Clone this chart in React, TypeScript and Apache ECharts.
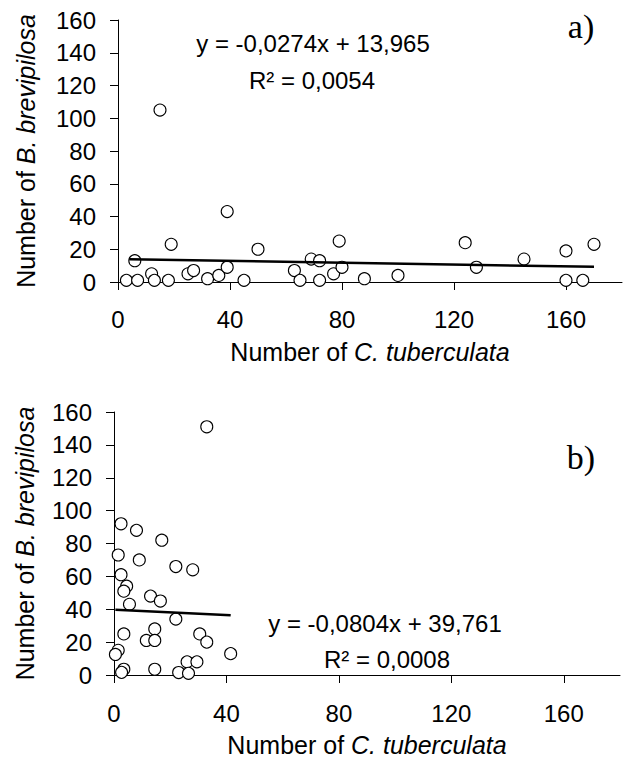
import React, { useEffect, useRef } from "react";
import * as echarts from "echarts";

// Panel a) data
const xA = [3, 6, 7, 12, 13, 15, 18, 19, 25, 27, 32, 36, 39, 39, 45, 50, 63, 65, 69, 72, 72, 77, 80, 79, 88, 100, 124, 128, 145, 160, 160, 166, 170];
const yA = [1, 13, 1, 5, 1, 105, 1, 23, 5, 7, 2, 4, 9, 43, 1, 20, 7, 1, 14, 13, 1, 5, 9, 25, 2, 4, 24, 9, 14, 19, 1, 1, 23];
const trendA: [number, number][] = [[4, 13.85], [170, 9.3]];

// Panel b) data
const xB = [33, 2.5, 8, 17, 1.5, 9, 22, 28, 2.5, 4.5, 3.5, 5.5, 13, 16.5, 22, 3.5, 14.5, 11.5, 14.5, 30.5, 33, 41.5, 1.5, 0.5, 3.5, 2.7, 14.5, 23, 26, 29.5, 26.5];
const yB = [151, 92, 88, 82, 73, 70, 66, 64, 61, 54, 51, 43, 48, 45, 34, 25, 28, 21, 21, 25, 20, 13, 15, 12.5, 3.5, 1.6, 3.5, 1.5, 8, 8, 1];
const trendB: [number, number][] = [[0.5, 39.7], [41.5, 36.4]];

const xTicks = [0, 40, 80, 120, 160];
const eqA = ["y = -0,0274x + 13,965", "R² = 0,0054"];
const eqB = ["y = -0,0804x + 39,761", "R² = 0,0008"];
const xName = "Number of {i|C. tuberculata}";
const yName = "Number of {i|B. brevipilosa}";

const SANS = "'Liberation Sans', Arial, sans-serif";
const SERIF = "'Liberation Serif', 'Times New Roman', serif";

export default function App() {
  const ref = useRef<HTMLDivElement>(null);
  useEffect(() => {
    if (!ref.current) return;
    const chart = echarts.init(ref.current, undefined, { renderer: "svg" });
    const nameStyle = {
      fontSize: 25,
      fontFamily: SANS,
      color: "#000",
      rich: { i: { fontStyle: "italic", fontSize: 25, fontFamily: SANS, color: "#000" } },
    };
    const axisLine = { show: true, onZero: false, lineStyle: { color: "#000", width: 1 } };
    const tick = { show: true, length: 8, inside: false, lineStyle: { color: "#000", width: 1 } };
    const mkX = (gi: number, labelMargin: number) => ({
      type: "value",
      gridIndex: gi,
      min: 0,
      max: 180,
      interval: 40,
      name: xName,
      nameLocation: "middle",
      nameGap: 57,
      nameTextStyle: nameStyle,
      axisLine,
      axisTick: { ...tick, customValues: xTicks },
      axisLabel: { fontSize: 24, fontFamily: SANS, color: "#000", margin: labelMargin, customValues: xTicks },
      splitLine: { show: false },
    });
    const mkY = (gi: number, gap: number) => ({
      type: "value",
      gridIndex: gi,
      min: 0,
      max: 160,
      interval: 20,
      name: yName,
      nameLocation: "middle",
      nameGap: gap,
      nameRotate: 90,
      nameTextStyle: nameStyle,
      axisLine,
      axisTick: tick,
      axisLabel: { fontSize: 24, fontFamily: SANS, color: "#000", margin: 22 },
      splitLine: { show: false },
    });
    const scatter = (i: number, xs: number[], ys: number[]) => ({
      type: "scatter",
      xAxisIndex: i,
      yAxisIndex: i,
      symbol: "circle",
      symbolSize: 12,
      itemStyle: { color: "#fff", borderColor: "#000", borderWidth: 1.1, opacity: 1 },
      data: xs.map((x, k) => [x, ys[k]]),
      z: 2,
    });
    const trend = (i: number, d: [number, number][]) => ({
      type: "line",
      xAxisIndex: i,
      yAxisIndex: i,
      data: d,
      showSymbol: false,
      symbol: "none",
      lineStyle: { color: "#000", width: 2.5 },
      z: 3,
    });
    const txt = (text: string, x: number, y: number, fontSize: number, family: string) => ({
      type: "text",
      x,
      y,
      style: {
        text,
        fill: "#000",
        fontSize,
        fontFamily: family,
        textAlign: "center",
        textVerticalAlign: "middle",
      },
      z: 10,
    });
    chart.setOption({
      animation: false,
      backgroundColor: "#fff",
      grid: [
        { left: 118, top: 20, width: 504, height: 262 },
        { left: 114, top: 412, width: 506, height: 264 },
      ],
      xAxis: [mkX(0, 25), mkX(1, 26)],
      yAxis: [mkY(0, 80), mkY(1, 77)],
      series: [scatter(0, xA, yA), trend(0, trendA), scatter(1, xB, yB), trend(1, trendB)],
      graphic: [
        txt(eqA[0], 313, 43, 24, SANS),
        txt(eqA[1], 312, 80, 24, SANS),
        txt(eqB[0], 385, 623, 24, SANS),
        txt(eqB[1], 387, 659, 24, SANS),
        txt("a)", 581, 26, 34, SERIF),
        txt("b)", 581, 457, 34, SERIF),
      ],
    });
    return () => chart.dispose();
  }, []);
  return (
    <div
      ref={ref}
      style={{ position: "fixed", left: 0, top: 0, width: 626, height: 758, background: "#fff" }}
    />
  );
}
